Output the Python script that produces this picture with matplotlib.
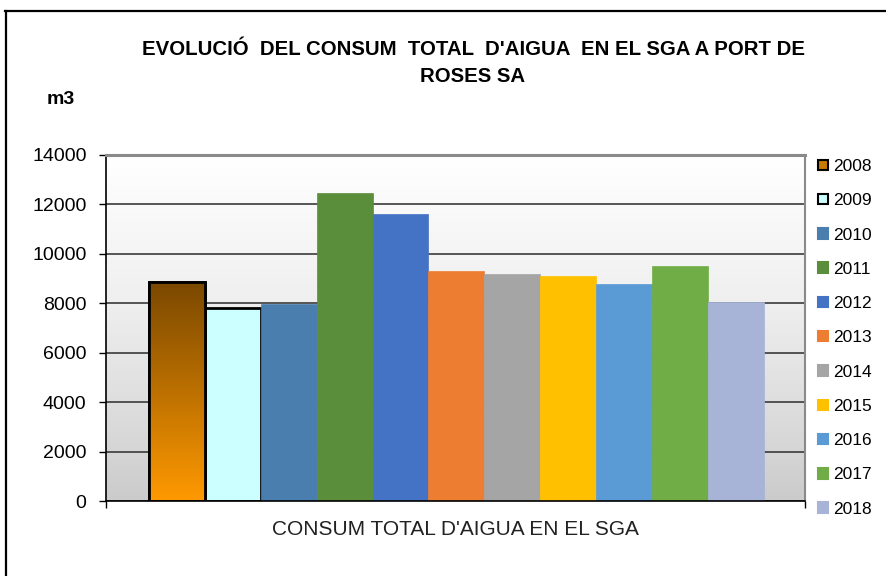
import matplotlib.pyplot as plt
import numpy as np
from matplotlib.lines import Line2D
from matplotlib.colors import LinearSegmentedColormap

plt.rcParams['font.family'] = ['Liberation Sans', 'DejaVu Sans']

# data
anys = ['2008', '2009', '2010', '2011', '2012', '2013', '2014', '2015', '2016', '2017', '2018']
consum = [8850, 7810, 7980, 12480, 11600, 9315, 9165, 9110, 8800, 9520, 8070]
colors = ['#c97a00', '#ccffff', '#4a7eae', '#5b8e3a', '#4472c4', '#ed7d31',
          '#a5a5a5', '#ffc000', '#5b9bd5', '#70ad47', '#a7b4d8']
edges = ['black', 'black'] + [None] * 9
categoria = "CONSUM TOTAL D'AIGUA EN EL SGA"
titol = "EVOLUCIÓ  DEL CONSUM  TOTAL  D'AIGUA  EN EL SGA A PORT DE\nROSES SA"
yticks = [0, 2000, 4000, 6000, 8000, 10000, 12000, 14000]

W, H = 886, 576
fig = plt.figure(figsize=(W / 100, H / 100), dpi=100)
fig.patch.set_facecolor('white')

# marc exterior
fig.add_artist(Line2D([5 / W, 1], [1 - 11 / H] * 2, color='black', lw=1.6))
fig.add_artist(Line2D([6 / W] * 2, [0, 1 - 11 / H], color='black', lw=1.6))

ax = fig.add_axes([106 / W, 1 - 501 / H, (805 - 106) / W, (501 - 155) / H])

n = len(anys)
pos = np.arange(n) - (n - 1) / 2
x0, x1 = -n / 2 - 0.77, n / 2 + 0.74

# fons amb degradat
grad = np.linspace(1, 0, 256).reshape(-1, 1)
ax.imshow(grad, extent=[x0, x1, 0, 14000], aspect='auto', cmap='Greys_r',
          vmin=-2.2, vmax=1, zorder=0, interpolation='bicubic')

bars = []
for i in range(n):
    b = ax.bar(pos[i], consum[i], width=1.0, color=colors[i],
               edgecolor=edges[i] if edges[i] else colors[i],
               linewidth=2.0 if edges[i] else 0.5, label=anys[i], zorder=2)
    bars.append(b)

# degradat de la primera barra (marró -> taronja)
cm08 = LinearSegmentedColormap.from_list('b08', ['#ff9900', '#7a4800'])
g = np.linspace(1, 0, 256).reshape(-1, 1)
im = ax.imshow(g, extent=[pos[0] - 0.5, pos[0] + 0.5, 0, consum[0]], aspect='auto',
               cmap=cm08, zorder=2.5, interpolation='bicubic')
im.set_clip_path(bars[0][0])
ax.bar(pos[0], consum[0], width=1.0, facecolor='none', edgecolor='black',
       linewidth=2.0, zorder=3)
ax.set_xlim(x0, x1)
ax.set_ylim(0, 14000)

ax.set_yticks(yticks)
ax.set_yticklabels([str(v) for v in yticks], fontsize=14)
ax.yaxis.grid(True, color='#3a3a3a', lw=1.2)
ax.set_axisbelow(True)
ax.tick_params(axis='y', direction='out', length=5, width=1, color='black', pad=9)
ax.set_xticks([x0, x1])
ax.set_xticklabels(['', ''])
ax.tick_params(axis='x', direction='out', length=5, width=1, color='black')
ax.set_xlabel(categoria, fontsize=15, color='#222222', labelpad=5)

for s in ['left', 'bottom']:
    ax.spines[s].set_color('black')
    ax.spines[s].set_linewidth(1.2)
ax.spines['top'].set_color('#8a8a8a')
ax.spines['top'].set_linewidth(2.2)
ax.spines['right'].set_color('#8a8a8a')
ax.spines['right'].set_linewidth(1.5)

fig.text(473 / W, 1 - 63 / H, titol, ha='center', va='center', fontsize=14.7,
         fontweight='bold', linespacing=1.5, multialignment='center')
fig.text(47 / W, 1 - 100 / H, 'm3', ha='left', va='center', fontsize=14,
         fontweight='bold')

leg = ax.legend(loc='upper left', bbox_to_anchor=(818 / W, 1 - 159 / H),
                bbox_transform=fig.transFigure, frameon=False, fontsize=12.5,
                handlelength=0.55, handleheight=0.55, handletextpad=0.3,
                labelspacing=1.11, borderpad=0, borderaxespad=0)
for h in leg.legend_handles:
    h.set_linewidth(1.5)

fig.savefig('out.png', dpi=100)
